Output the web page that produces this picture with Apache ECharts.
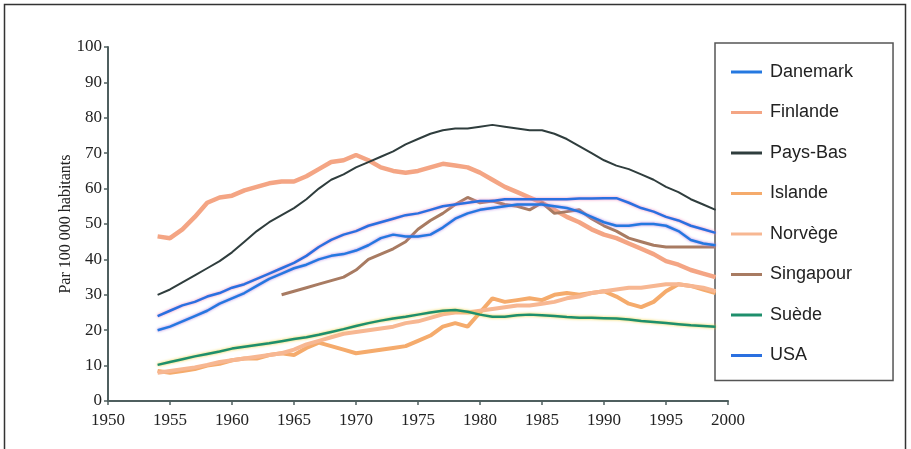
<!DOCTYPE html>
<html>
<head>
<meta charset="utf-8">
<script src="https://cdn.jsdelivr.net/npm/echarts@6/dist/echarts.min.js"></script>
<style>
html,body{margin:0;padding:0;background:#fff;}
#c{width:911px;height:449px;}
</style>
</head>
<body>
<div id="c"></div>
<script>
const years = [1954,1955,1956,1957,1958,1959,1960,1961,1962,1963,1964,1965,1966,1967,1968,1969,1970,1971,1972,1973,1974,1975,1976,1977,1978,1979,1980,1981,1982,1983,1984,1985,1986,1987,1988,1989,1990,1991,1992,1993,1994,1995,1996,1997,1998,1999];

const danemark = [20,21,22.5,24,25.5,27.5,29,30.5,32.5,34.5,36,37.5,38.5,40,41,41.5,42.5,44,46,47,46.5,46.5,47,49,51.5,53,54,54.5,55,55.5,55.5,55.5,55,54.5,53.5,52,50.5,49.5,49.5,50,50,49.5,48,45.5,44.5,44];
const finlande = [46.5,46,48.5,52,56,57.5,58,59.5,60.5,61.5,62,62,63.5,65.5,67.5,68,69.5,68,66,65,64.5,65,66,67,66.5,66,64.5,62.5,60.5,59,57.5,56,54,52,50.5,48.5,47,46,44.5,43,41.5,39.5,38.5,37,36,35];
const paysBas = [30,31.5,33.5,35.5,37.5,39.5,42,45,48,50.5,52.5,54.5,57,60,62.5,64,66,67.5,69,70.5,72.5,74,75.5,76.5,77,77,77.5,78,77.5,77,76.5,76.5,75.5,74,72,70,68,66.5,65.5,64,62.5,60.5,59,57,55.5,54];
const islande = [8.5,8,8.5,9,10,10.5,11.5,12,12,13,13.5,13,15,16.5,15.5,14.5,13.5,14,14.5,15,15.5,17,18.5,21,22,21,25,29,28,28.5,29,28.5,30,30.5,30,30.5,31,29.5,27.5,26.5,28,31,33,32.5,31.5,30.5];
const norvege = [8,8.5,9,9.5,10.2,11,11.5,12,12.5,13,13.5,14.5,16,17,18,19,19.5,20,20.5,21,22,22.5,23.5,24.5,25,25,25.5,26,26.5,27,27,27.5,28,29,29.5,30.5,31,31.5,32,32,32.5,33,33,32.5,32,31];
const singapour = [null,null,null,null,null,null,null,null,null,null,30,31,32,33,34,35,37,40,41.5,43,45,48.5,51,53,55.5,57.5,56,56.5,55.5,55,54,56,53,53.5,54,51.5,49.5,48,46,45,44,43.5,43.5,43.5,43.5,43.5];
const suede = [10.2,11,11.8,12.6,13.3,14,14.8,15.3,15.8,16.3,16.9,17.5,18,18.7,19.5,20.3,21.2,22,22.7,23.3,23.8,24.4,25,25.5,25.7,25.2,24.4,23.8,23.8,24.2,24.4,24.2,24,23.7,23.5,23.5,23.4,23.3,23,22.6,22.3,22,21.7,21.4,21.2,21];
const usa = [24,25.5,27,28,29.5,30.5,32,33,34.5,36,37.5,39,41,43.5,45.5,47,48,49.5,50.5,51.5,52.5,53,54,55,55.5,56,56.5,56.5,57,57,57,57,57,57,57.2,57.2,57.3,57.3,56,54.5,53.5,52,51,49.5,48.5,47.5];

const seriesNames = ['Danemark','Finlande','Pays-Bas','Islande','Norvège','Singapour','Suède','USA'];
const yTicks = [0,10,20,30,40,50,60,70,80,90,100];
const xTicks = [1950,1955,1960,1965,1970,1975,1980,1985,1990,1995,2000];

function pts(arr){ return years.map((y,i)=>[y,arr[i]]); }

const styles = {
  'Danemark': {color:'#2578e0', width:2.5, shadow:'#b080e0'},
  'Finlande': {color:'#f4a584', width:4.5, shadow:null},
  'Pays-Bas': {color:'#2f3d3d', width:2, shadow:null},
  'Islande': {color:'#f5ab6c', width:4, shadow:null},
  'Norvège': {color:'#f7b792', width:4, shadow:null},
  'Singapour': {color:'#a87b62', width:3, shadow:null},
  'Suède': {color:'#1e8f6c', width:2.5, shadow:'#f0d040'},
  'USA': {color:'#2a70e0', width:2.5, shadow:'#f090c0'}
};
const dataMap = {'Danemark':danemark,'Finlande':finlande,'Pays-Bas':paysBas,'Islande':islande,'Norvège':norvege,'Singapour':singapour,'Suède':suede,'USA':usa};
const drawOrder = ['Islande','Norvège','Finlande','Singapour','Suède','Pays-Bas','Danemark','USA'];

const series = drawOrder.map(n=>{
  const s = styles[n];
  const ls = {color:s.color, width:s.width};
  if (s.shadow){ ls.shadowColor = s.shadow; ls.shadowBlur = 3; }
  return {
    name:n, type:'line', data:pts(dataMap[n]), symbol:'none', smooth:false, z:3,
    connectNulls:false, lineStyle:ls, itemStyle:{color:s.color},
    emphasis:{disabled:true}, animation:false
  };
});

const chart = echarts.init(document.getElementById('c'), null, {renderer:'canvas'});
chart.setOption({
  backgroundColor:'#fff',
  animation:false,
  graphic:[{type:'rect', z:0, shape:{x:4.5,y:4.5,width:901,height:460}, style:{fill:'none', stroke:'#333', lineWidth:1.5}, silent:true}],
  grid:{left:108, top:47, right:183, bottom:48, containLabel:false},
  xAxis:{
    type:'value', min:1950, max:2000, interval:5,
    axisLine:{show:true, lineStyle:{color:'#4f5f5f', width:2}},
    axisTick:{show:true, length:4, lineStyle:{color:'#4f5f5f', width:1.5}},
    splitLine:{show:false},
    axisLabel:{color:'#222', fontFamily:'Liberation Serif', fontSize:17, margin:11, formatter:v=>String(v), letterSpacing:-0.5}
  },
  yAxis:{
    type:'value', min:0, max:100, interval:10,
    name:'Par 100 000 habitants', nameLocation:'middle', nameGap:34, nameRotate:90,
    nameMoveOverlap:false,
    nameTextStyle:{color:'#222', fontFamily:'Liberation Serif', fontSize:16},
    axisLine:{show:true, lineStyle:{color:'#4f5f5f', width:2}},
    axisTick:{show:true, length:4, lineStyle:{color:'#4f5f5f', width:1.5}},
    splitLine:{show:false},
    axisLabel:{color:'#222', fontFamily:'Liberation Serif', fontSize:17, margin:6, letterSpacing:-0.5}
  },
  legend:{
    orient:'vertical', left:715, top:43, z:1,
    data:seriesNames,
    icon:'rect',
    itemWidth:31, itemHeight:3, itemGap:22.5,
    padding:[20,40,16,16],
    borderColor:'#555', borderWidth:1.5, backgroundColor:'transparent',
    textStyle:{color:'#222', fontFamily:'Liberation Sans', fontSize:18, padding:[0,0,0,3]},
    selectedMode:false
  },
  series:series
});
</script>
</body>
</html>
